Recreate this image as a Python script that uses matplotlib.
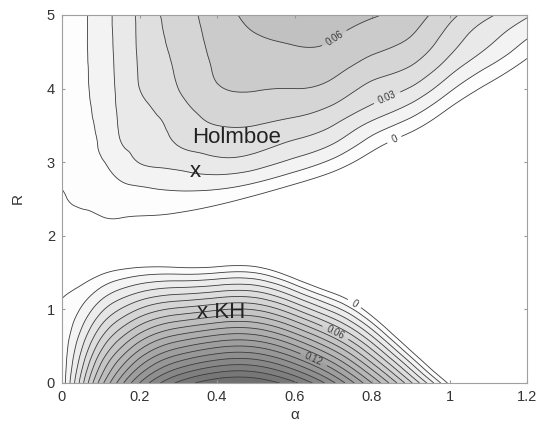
import matplotlib
matplotlib.use('agg')
import matplotlib.pyplot as plt
import matplotlib.tri as mtri
import numpy as np

plt.rcParams['font.family'] = ['Liberation Sans', 'DejaVu Sans']

# wavenumber (columns) and scale ratio R (rows)
alpha = [0, 0.05, 0.1, 0.15, 0.2, 0.3, 0.4, 0.5, 0.6, 0.7, 0.8, 0.9, 1.0, 1.1, 1.2]
R_kh = [0, 0.25, 0.5, 0.75, 1.0, 1.25, 1.5, 1.75, 2.0]
R_holm = [2.0, 2.25, 2.5, 2.75, 3.0, 3.25, 3.5, 3.75, 4.0, 4.25, 4.5, 4.75, 5.0]

# growth rate (one row per R_kh value)
growth_kh = [
    [0.003, 0.045, 0.085, 0.115, 0.140, 0.172, 0.187, 0.188, 0.172, 0.142, 0.100, 0.052, -0.003, -0.06, -0.11],
    [0.003, 0.0365, 0.0706, 0.0963, 0.1177, 0.1446, 0.1574, 0.1583, 0.1417, 0.1129, 0.0725, 0.0225, -0.035, -0.09, -0.14],
    [0.003, 0.0281, 0.0561, 0.0777, 0.0955, 0.1172, 0.1279, 0.1286, 0.1115, 0.0838, 0.0451, -0.0071, -0.065, -0.12, -0.17],
    [0.002, 0.0196, 0.0416, 0.0590, 0.0731, 0.0898, 0.0982, 0.0987, 0.0812, 0.0547, 0.0176, -0.0366, -0.095, -0.15, -0.2],
    [0.001, 0.0112, 0.0272, 0.0403, 0.0508, 0.0624, 0.0686, 0.0690, 0.0509, 0.0256, -0.0099, -0.066, -0.125, -0.18, -0.23],
    [-0.001, 0.0027, 0.0127, 0.0217, 0.0285, 0.0351, 0.0391, 0.0393, 0.0206, -0.0035, -0.037, -0.096, -0.155, -0.21, -0.26],
    [-0.004, -0.0058, -0.0017, 0.0030, 0.0063, 0.0077, 0.0095, 0.0096, -0.0097, -0.0326, -0.065, -0.125, -0.185, -0.24, -0.29],
    [-0.007, -0.0142, -0.016, -0.0157, -0.016, -0.0197, -0.0202, -0.0202, -0.040, -0.0617, -0.092, -0.155, -0.215, -0.27, -0.32],
    [-0.01, -0.0227, -0.0307, -0.0343, -0.0384, -0.0471, -0.0497, -0.0500, -0.070, -0.091, -0.12, -0.185, -0.245, -0.3, -0.35],
]

# growth rate (one row per R_holm value)
growth_holm = [
    [-0.01, -0.009, -0.0041, -0.0047, -0.0068, -0.010, -0.021, -0.032, -0.042, -0.048, -0.055, -0.071, -0.080, -0.089, -0.096],
    [-0.006, -0.003, -0.0003, 0.0002, -0.0005, -0.002, -0.0085, -0.0177, -0.027, -0.0345, -0.043, -0.059, -0.068, -0.078, -0.086],
    [-0.002, 0.003, 0.0035, 0.0051, 0.0058, 0.0061, 0.004, -0.003, -0.012, -0.0206, -0.031, -0.046, -0.057, -0.068, -0.076],
    [0.002, 0.005, 0.0065, 0.010, 0.0124, 0.0150, 0.0159, 0.0117, 0.003, -0.0067, -0.019, -0.033, -0.045, -0.057, -0.066],
    [0.004, 0.0065, 0.0090, 0.015, 0.0203, 0.0238, 0.0276, 0.025, 0.0172, 0.0072, -0.007, -0.0207, -0.034, -0.046, -0.056],
    [0.005, 0.0072, 0.0112, 0.0195, 0.0227, 0.0306, 0.0344, 0.0338, 0.028, 0.020, 0.0048, -0.008, -0.0225, -0.035, -0.046],
    [0.005, 0.0076, 0.0122, 0.0210, 0.0252, 0.0338, 0.040, 0.040, 0.0367, 0.030, 0.0167, 0.0047, -0.011, -0.0246, -0.036],
    [0.005, 0.0078, 0.0132, 0.0218, 0.0276, 0.0369, 0.0445, 0.0456, 0.0438, 0.0389, 0.0286, 0.0175, 0.0005, -0.0138, -0.026],
    [0.005, 0.008, 0.014, 0.0224, 0.030, 0.040, 0.0491, 0.0506, 0.050, 0.0465, 0.0369, 0.0291, 0.0123, -0.003, -0.016],
    [0.005, 0.008, 0.0145, 0.0227, 0.0307, 0.0413, 0.0511, 0.0538, 0.0543, 0.0525, 0.0443, 0.0382, 0.0232, 0.0078, -0.0064],
    [0.005, 0.008, 0.015, 0.0229, 0.0312, 0.0425, 0.0524, 0.0569, 0.0586, 0.0575, 0.051, 0.0453, 0.0315, 0.018, 0.0036],
    [0.005, 0.008, 0.0153, 0.023, 0.0316, 0.0438, 0.0537, 0.060, 0.0624, 0.0612, 0.056, 0.0508, 0.0370, 0.0244, 0.0126],
    [0.005, 0.008, 0.0155, 0.023, 0.032, 0.045, 0.055, 0.063, 0.066, 0.065, 0.061, 0.055, 0.043, 0.0315, 0.0215],
]

kh_line_levels = np.round(np.arange(0, 0.195, 0.01), 2)
holm_line_levels = np.round(np.arange(0, 0.075, 0.01), 2)


def smooth_grid(xs, ys, zs):
    # split each grid cell into two triangles, then let matplotlib's
    # cubic refiner smooth the table for drawing
    X, Y = np.meshgrid(xs, ys)
    nx = len(xs)
    tris = []
    for j in range(len(ys) - 1):
        for i in range(nx - 1):
            p = j*nx + i
            tris.append([p, p + 1, p + nx + 1])
            tris.append([p, p + nx + 1, p + nx])
    tri = mtri.Triangulation(X.ravel(), Y.ravel(), tris)
    refiner = mtri.UniformTriRefiner(tri)
    return refiner.refine_field(np.asarray(zs, dtype=float).ravel(), subdiv=3)


fig = plt.figure(figsize=(5.37, 4.25), dpi=100)
ax = fig.add_axes([62/537, 1-383/425, 465/537, 368/425])

tri_kh, z_kh = smooth_grid(alpha, R_kh, growth_kh)
tri_holm, z_holm = smooth_grid(alpha, R_holm, growth_holm)

# filled bands: white below zero, then greys getting darker
kh_fill = [-1] + list(kh_line_levels) + [0.3]
kh_cols = ['white'] + [str((252 - 7.8*k)/255) for k in range(len(kh_line_levels))]
ax.tricontourf(tri_kh, z_kh, levels=kh_fill, colors=kh_cols)
holm_fill = [-1] + list(holm_line_levels) + [0.3]
holm_cols = ['white'] + [str((253 - 10*k)/255) for k in range(len(holm_line_levels))]
ax.tricontourf(tri_holm, z_holm, levels=holm_fill, colors=holm_cols)

cs_kh = ax.tricontour(tri_kh, z_kh, levels=kh_line_levels, colors='#3c3c3c', linewidths=0.6)
cs_holm = ax.tricontour(tri_holm, z_holm, levels=holm_line_levels, colors='#3c3c3c', linewidths=0.6)

ax.clabel(cs_kh, fmt='%g', fontsize=7, inline=True,
          manual=[(0.756, 1.09), (0.709, 0.72), (0.649, 0.31)])
ax.clabel(cs_holm, fmt='%g', fontsize=7, inline=True,
          manual=[(0.86, 3.28), (0.838, 3.89), (0.709, 4.64)])

ax.text(0.335, 3.33, 'Holmboe', fontsize=16, ha='left', va='center', color='#222222')
ax.text(0.343, 2.87, 'x', fontsize=16, ha='center', va='center', color='#222222')
ax.text(0.348, 0.96, 'x KH', fontsize=16, ha='left', va='center', color='#222222')

ax.set_xlim(0, 1.2)
ax.set_ylim(0, 5)
ax.set_xticks([0, 0.2, 0.4, 0.6, 0.8, 1, 1.2])
ax.set_xticklabels(['0', '0.2', '0.4', '0.6', '0.8', '1', '1.2'])
ax.set_yticks([0, 1, 2, 3, 4, 5])
ax.tick_params(direction='in', length=2.5, color='#999999', labelsize=10.5,
               labelcolor='#333333', top=True, right=True, pad=5)
for s in ax.spines.values():
    s.set_color('#a0a0a0')
    s.set_linewidth(0.8)

ax.set_xlabel('α', fontsize=11, color='#333333', labelpad=3)
ax.set_ylabel('R', fontsize=11, color='#333333', labelpad=16)

plt.savefig('out.png', dpi=100)
